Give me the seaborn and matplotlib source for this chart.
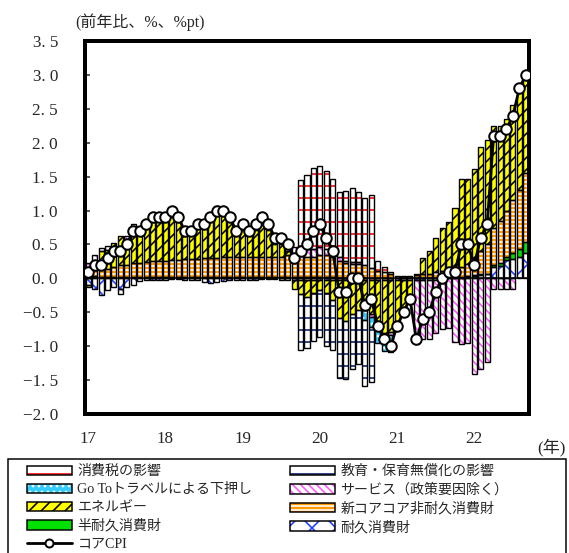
import numpy as np
import pandas as pd
import matplotlib
matplotlib.use("Agg")
import matplotlib.pyplot as plt
import seaborn as sns
from matplotlib.patches import Patch, Rectangle
from matplotlib.lines import Line2D
from matplotlib.legend_handler import HandlerTuple

# ---------------- data (monthly, 2017-01 ... 2022-09) ----------------
year_labels = ["17", "18", "19", "20", "21", "22"]
year_positions = [0, 12, 24, 36, 48, 60]
month_index = list(range(69))

core_cpi = [0.1, 0.2, 0.2, 0.3, 0.4, 0.4, 0.5, 0.7, 0.7, 0.8, 0.9, 0.9,
            0.9, 1.0, 0.9, 0.7, 0.7, 0.8, 0.8, 0.9, 1.0, 1.0, 0.9, 0.7,
            0.8, 0.7, 0.8, 0.9, 0.8, 0.6, 0.6, 0.5, 0.3, 0.4, 0.5, 0.7,
            0.8, 0.6, 0.4, -0.2, -0.2, 0.0, 0.0, -0.4, -0.3, -0.7, -0.9, -1.0,
            -0.7, -0.5, -0.3, -0.9, -0.6, -0.5, -0.2, 0.0, 0.1, 0.1, 0.5, 0.5,
            0.2, 0.6, 0.8, 2.1, 2.1, 2.2, 2.4, 2.8, 3.0]

durable = [-0.10, -0.15, -0.25, -0.17, -0.12, -0.15, -0.12, -0.10, -0.04, -0.03, -0.02, -0.02,
           -0.02, -0.01, -0.01, -0.02, -0.03, -0.03, -0.05, -0.07, -0.06, -0.04, -0.03, -0.02,
           -0.02, -0.02, -0.02, -0.01, -0.01, -0.01, -0.02, -0.02, -0.03, -0.03, -0.02, -0.02,
           -0.02, -0.02, -0.02, -0.03, -0.03, -0.02, -0.02, -0.02, -0.02, -0.02, -0.02, -0.02,
           -0.02, -0.02, -0.02, -0.02, -0.02, -0.02, -0.02, -0.01, 0.00, 0.00, 0.01, 0.02,
           0.04, 0.05, 0.06, 0.17, 0.18, 0.27, 0.28, 0.32, 0.37]

semi_durable = [0.01, 0.03, 0.02, 0.02, 0.02, 0.02, 0.02, 0.02, 0.02, 0.02, 0.02, 0.02,
                0.02, 0.02, 0.02, 0.02, 0.02, 0.02, 0.02, 0.02, 0.02, 0.02, 0.02, 0.02,
                0.02, 0.02, 0.02, 0.02, 0.02, 0.02, 0.02, 0.02, 0.02, 0.02, 0.02, 0.02,
                0.02, 0.02, 0.02, 0.01, 0.01, 0.01, 0.01, 0.01, 0.01, 0.01, 0.01, 0.01,
                0.01, 0.01, 0.01, 0.01, 0.01, 0.01, 0.01, 0.01, 0.01, 0.01, 0.01, 0.01,
                0.01, 0.01, 0.01, 0.02, 0.05, 0.05, 0.09, 0.12, 0.17]

new_core_core = [0.08, 0.10, 0.12, 0.12, 0.15, 0.17, 0.18, 0.20, 0.20, 0.22, 0.23, 0.24,
                 0.24, 0.25, 0.25, 0.26, 0.26, 0.27, 0.28, 0.28, 0.28, 0.30, 0.30, 0.30,
                 0.30, 0.30, 0.30, 0.30, 0.30, 0.30, 0.30, 0.32, 0.32, 0.32, 0.30, 0.30,
                 0.32, 0.32, 0.30, 0.25, 0.22, 0.20, 0.20, 0.18, 0.15, 0.10, 0.08, 0.05,
                 0.03, 0.03, 0.03, 0.04, 0.05, 0.06, 0.08, 0.10, 0.11, 0.13, 0.15, 0.18,
                 0.25, 0.34, 0.43, 0.56, 0.62, 0.68, 0.78, 0.86, 1.01]

energy = [-0.03, 0.10, 0.26, 0.28, 0.35, 0.44, 0.37, 0.53, 0.47, 0.54, 0.62, 0.61,
          0.61, 0.64, 0.59, 0.41, 0.40, 0.49, 0.50, 0.62, 0.68, 0.64, 0.53, 0.35,
          0.40, 0.32, 0.40, 0.47, 0.39, 0.19, 0.18, 0.06, -0.13, -0.20, -0.25, -0.20,
          -0.15, -0.20, -0.30, -0.55, -0.60, -0.50, -0.45, -0.45, -0.50, -0.64, -0.78, -0.77,
          -0.69, -0.49, -0.29, 0.02, 0.24, 0.33, 0.51, 0.63, 0.71, 0.90, 1.30, 1.25,
          1.31, 1.54, 1.54, 1.50, 1.40, 1.35, 1.40, 1.45, 1.40]

services = [0.14, 0.12, 0.05, 0.05, 0.00, -0.08, 0.05, 0.05, 0.05, 0.05, 0.05, 0.05,
            0.05, 0.10, 0.05, 0.03, 0.05, 0.05, 0.05, 0.05, 0.08, 0.08, 0.08, 0.05,
            0.10, 0.08, 0.10, 0.12, 0.10, 0.10, 0.12, 0.12, 0.12, 0.12, 0.12, 0.12,
            0.12, 0.10, 0.10, 0.05, 0.03, 0.03, 0.03, 0.00, -0.05, -0.10, -0.05, -0.05,
            -0.03, -0.03, -0.03, -0.95, -0.88, -0.88, -0.78, -0.73, -0.73, -0.94, -0.97, -0.96,
            -1.41, -1.34, -1.24, -0.15, -0.15, -0.15, -0.15, 0.05, 0.05]

goto_travel = [0.0] * 43 + [-0.15, -0.15, -0.20, -0.22, -0.25] + [0.0] * 21

education = [0.0] * 33 + [-0.82, -0.76, -0.70, -0.69, -0.77, -0.74,
                          -0.89, -0.86, -0.81, -0.80, -0.97, -0.81] + [0.0] * 24

consumption_tax = [0.0] * 33 + [0.99, 1.09, 1.18, 1.20, 1.15, 1.04,
                                0.96, 1.03, 1.09, 1.03, 1.00, 1.07,
                                0.15, 0.08, 0.03] + [0.0] * 21

labels = {
    "tax": "消費税の影響",
    "edu": "教育・保育無償化の影響",
    "goto": "Go Toトラベルによる下押し",
    "serv": "サービス（政策要因除く）",
    "ene": "エネルギー",
    "ncc": "新コアコア非耐久消費財",
    "semi": "半耐久消費財",
    "dur": "耐久消費財",
    "cpi": "コアCPI",
}

# ---------------- style ----------------
sns.set_style("white")
plt.rcParams["font.family"] = ["Liberation Serif", "Noto Sans CJK JP", "DejaVu Sans"]
plt.rcParams["hatch.linewidth"] = 1.6
plt.rcParams["axes.unicode_minus"] = False

W, H, DPI = 569, 553, 72
fig = plt.figure(figsize=(W / DPI, H / DPI), dpi=DPI)
fig.patch.set_facecolor("white")
ax = fig.add_axes([85 / W, 1 - 414 / H, 444 / W, 373 / H])
ax.set_facecolor("white")

# stacking order from the zero line outward
styles = {
    "dur": ("white", "x", "#1f3fff"),
    "semi": ("#00e000", None, "#00e000"),
    "ncc": ("#ff9900", "---", "white"),
    "ene": ("#ffff00", "//", "black"),
    "serv": ("white", "\\\\\\", "#ff55ff"),
    "goto": ("#33ccff", "..", "white"),
    "edu": ("white", "-", "#001a66"),
    "tax": ("white", "-", "#ff0000"),
}
stack = [("dur", durable), ("semi", semi_durable), ("ncc", new_core_core),
         ("ene", energy), ("serv", services), ("goto", goto_travel),
         ("edu", education), ("tax", consumption_tax)]

x = np.array(month_index, dtype=float)
pos = np.zeros(len(x))
neg = np.zeros(len(x))
bw = 0.78
for key, vals in stack:
    v = np.asarray(vals, dtype=float)
    face, hatch, hcol = styles[key]
    m = v != 0
    bottom = np.where(v > 0, pos, neg)
    ax.bar(x[m], v[m], width=bw, bottom=bottom[m], color=face, hatch=hatch,
           edgecolor=hcol, linewidth=0, zorder=1)
    ax.bar(x[m], v[m], width=bw, bottom=bottom[m], fill=False,
           edgecolor="black", linewidth=1.4, zorder=2)
    pos += np.clip(v, 0, None)
    neg += np.clip(v, None, 0)

ax.axhline(0, color="black", linewidth=1.5, zorder=2.5)

df = pd.DataFrame({"month": x, "cpi": core_cpi})
sns.lineplot(data=df, x="month", y="cpi", ax=ax, color="black", linewidth=2.8,
             marker="o", markersize=10.5, markerfacecolor="white",
             markeredgecolor="black", markeredgewidth=2, zorder=5, legend=False)

ax.set_xlim(-0.5, 68.5)
ax.set_ylim(-2.0, 3.5)
ax.set_xlabel("")
ax.set_ylabel("")
ax.set_xticks(year_positions)
ax.set_xticklabels(year_labels)
yt = np.arange(-2.0, 3.51, 0.5)
ax.set_yticks(yt)


def fmt(v):
    s = f"{abs(v):.1f}".replace(".", ". ")
    return ("−" + s) if v < -1e-9 else s


ax.set_yticklabels([fmt(v) for v in yt])
ax.tick_params(axis="y", direction="in", length=5, width=1.5, pad=27,
               labelsize=17, left=True, right=False)
ax.tick_params(axis="x", length=0, pad=17, labelsize=17)
ax.grid(False)
for s in ax.spines.values():
    s.set_linewidth(4)
    s.set_color("black")
    s.set_visible(True)

fig.text(75 / W, 1 - 22 / H, "(前年比、%、%pt)", fontsize=16, ha="left", va="center")
fig.text(566 / W, 1 - 447 / H, "(年)", fontsize=17, ha="right", va="center")

# legend box
fig.add_artist(Rectangle((8 / W, -0.05), 558 / W, (553 - 459) / H + 0.05,
                         transform=fig.transFigure, fill=False,
                         edgecolor="black", linewidth=1.5))


def bar_handle(key):
    face, hatch, hcol = styles[key]
    return (Patch(facecolor=face, hatch=hatch, edgecolor=hcol, linewidth=0),
            Patch(facecolor="none", edgecolor="black", linewidth=1.5))


cpi_handle = Line2D([], [], color="black", linewidth=2.8, marker="o", markersize=8,
                    markerfacecolor="white", markeredgecolor="black", markeredgewidth=2)

col1 = ["tax", "goto", "ene", "semi"]
col2 = ["edu", "serv", "ncc", "dur"]
h1 = [bar_handle(k) for k in col1] + [cpi_handle]
l1 = [labels[k] for k in col1] + [labels["cpi"]]
h2 = [bar_handle(k) for k in col2]
l2 = [labels[k] for k in col2]

leg_kw = dict(frameon=False, fontsize=14, handlelength=3.2, handleheight=0.65,
              handletextpad=0.4, labelspacing=0.36, borderpad=0, borderaxespad=0,
              loc="upper left", handler_map={tuple: HandlerTuple(ndivide=1, pad=0)})
fig.legend(h1, l1, bbox_to_anchor=(27 / W, 1 - 465 / H), **leg_kw)
fig.legend(h2, l2, bbox_to_anchor=(290 / W, 1 - 465 / H), **leg_kw)

fig.savefig("out.png", dpi=DPI, facecolor="white")
